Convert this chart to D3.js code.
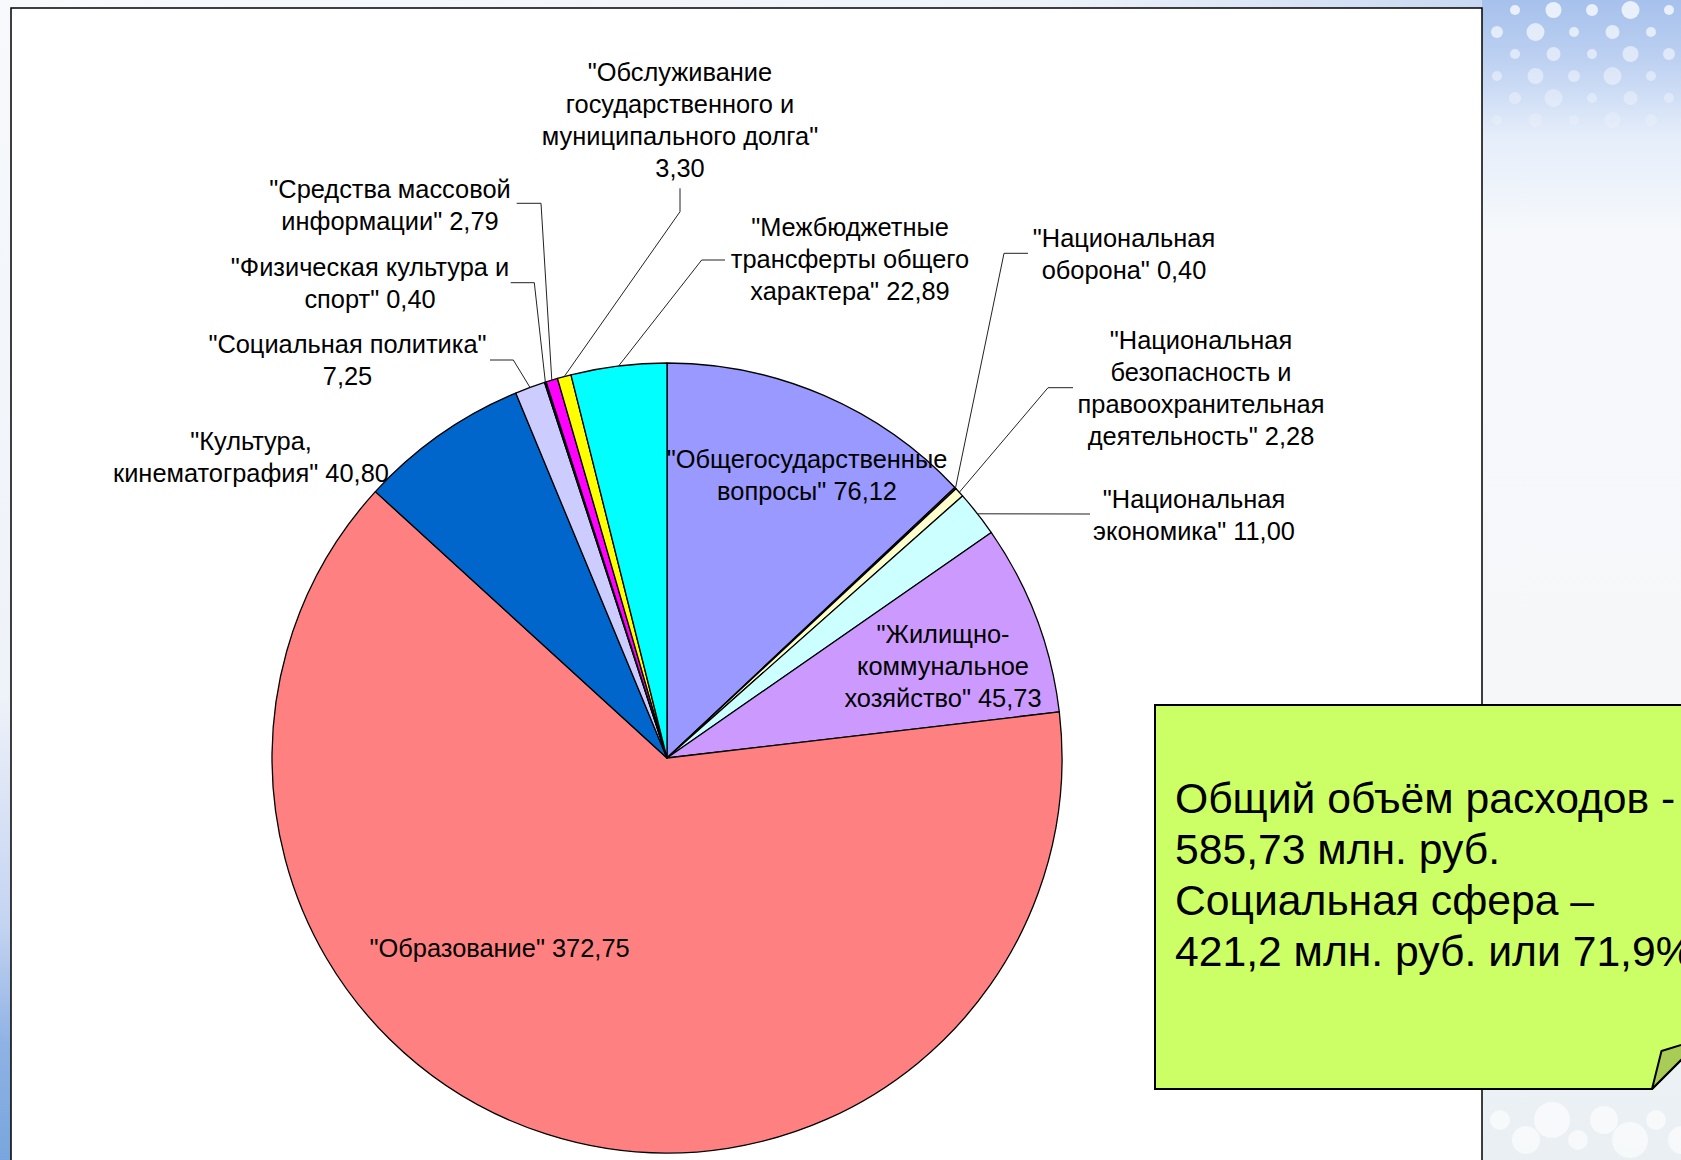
<!DOCTYPE html>
<html><head><meta charset="utf-8">
<script src="https://cdn.jsdelivr.net/npm/d3@7"></script>
<style>html,body{margin:0;padding:0;overflow:hidden;background:#fff} svg{display:block}</style>
</head><body>
<svg id="c" width="1681" height="1160"></svg>
<script>
// ---------- data ----------
const categories = [
  'Общегосударственные вопросы',
  'Национальная оборона',
  'Национальная безопасность и правоохранительная деятельность',
  'Национальная экономика',
  'Жилищно-коммунальное хозяйство',
  'Образование',
  'Культура, кинематография',
  'Социальная политика',
  'Физическая культура и спорт',
  'Средства массовой информации',
  'Обслуживание государственного и муниципального долга',
  'Межбюджетные трансферты общего характера'
];
const values = [76.12, 0.40, 2.28, 11.00, 45.73, 372.75, 40.80, 7.25, 0.40, 2.79, 3.30, 22.89];
const colors = ['#9999ff','#993366','#ffffcc','#ccffff','#cc99ff','#ff8080','#0066cc','#ccccff','#000080','#ff00ff','#ffff00','#00ffff'];
// label text with line breaks ("|") ; {v} = value
const labelWrap = [
  '"Общегосударственные|вопросы" {v}',
  '"Национальная|оборона" {v}',
  '"Национальная|безопасность и|правоохранительная|деятельность" {v}',
  '"Национальная|экономика" {v}',
  '"Жилищно-|коммунальное|хозяйство" {v}',
  '"Образование" {v}',
  '"Культура,|кинематография" {v}',
  '"Социальная политика"|{v}',
  '"Физическая культура и|спорт" {v}',
  '"Средства массовой|информации" {v}',
  '"Обслуживание|государственного и|муниципального долга"|{v}',
  '"Межбюджетные|трансферты общего|характера" {v}'
];
const noteLines = ['Общий объём расходов -', '585,73 млн. руб.', 'Социальная сфера –', '421,2 млн. руб. или 71,9%'];

// ---------- layout ----------
const W = 1681, H = 1160;
const cx = 667, cy = 758, R = 395;
const LH = 32, FS = 25.4;
const labelPos = [
  {x: 807, y: 474.5},
  {x: 1124, y: 253.5, lead: [[1028, 253.3],[1004, 253.3]]},
  {x: 1201, y: 388, lead: [[1073, 387.7],[1048, 387.7]]},
  {x: 1194, y: 514.6, lead: [[1090, 514],[1086, 514]]},
  {x: 943, y: 666},
  {x: 499.6, y: 948},
  {x: 251, y: 457},
  {x: 347.5, y: 360, lead: [[490, 360],[513.3, 360]]},
  {x: 370, y: 283, lead: [[510.7, 282.7],[534.3, 282.7]]},
  {x: 390, y: 205, lead: [[516.7, 203.3],[541, 203.3]]},
  {x: 680, y: 120, lead: [[680, 188.3],[680, 211.7]]},
  {x: 850, y: 259, lead: [[725, 260],[701.7, 260]]}
];

const locale = d3.formatLocale({decimal: ',', thousands: ' ', grouping: [3], currency: ['', '']});
const fmt = locale.format('.2f');

const svg = d3.select('#c');
const defs = svg.append('defs');

const g1 = defs.append('linearGradient').attr('id','bgR').attr('x1',0).attr('y1',0).attr('x2',0).attr('y2',1);
[[0,'#a6c1ec'],[0.05,'#bcd0f1'],[0.12,'#e6eefa'],[0.2,'#f6f8fb'],[0.7,'#f5f7f9'],[1,'#e9eff3']].forEach(s=>g1.append('stop').attr('offset',s[0]).attr('stop-color',s[1]));
const g2 = defs.append('linearGradient').attr('id','bgL').attr('x1',0).attr('y1',0).attr('x2',0).attr('y2',1);
[[0,'#f7f9fc'],[0.6,'#eef2f9'],[0.8,'#c3d3f1'],[0.9,'#8fb2e4'],[1,'#78a6dc']].forEach(s=>g2.append('stop').attr('offset',s[0]).attr('stop-color',s[1]));
const g3 = defs.append('linearGradient').attr('id','bgT').attr('x1',0).attr('y1',0).attr('x2',1).attr('y2',0);
[[0,'#f8fafc'],[0.7,'#eef3fa'],[1,'#c8d8f2']].forEach(s=>g3.append('stop').attr('offset',s[0]).attr('stop-color',s[1]));

svg.append('rect').attr('width',W).attr('height',H).attr('fill','#f6f8fa');
svg.append('rect').attr('x',0).attr('width',1482).attr('height',12).attr('fill','url(#bgT)');
svg.append('rect').attr('x',1482).attr('width',W-1482).attr('height',H).attr('fill','url(#bgR)');
svg.append('rect').attr('width',12).attr('height',H).attr('fill','url(#bgL)');

// decorative bubbles top-right
const bub = svg.append('g').attr('fill','#ffffff');
for (let row = 0; row < 6; row++) {
  for (let col = 0; col < 6; col++) {
    const x = 1497 + col * 38.5 + (row % 2 === 0 ? 18 : 0);
    const y = 10 + row * 22;
    const r = [5,8,6,9,5,7][(row*2+col)%6];
    bub.append('circle').attr('cx',x).attr('cy',y).attr('r',r).attr('opacity', 0.75 - row*0.11);
  }
}
for (let i = 0; i < 8; i++) {
  svg.append('circle').attr('cx',1500 + i*26).attr('cy',1120 + (i%2)*20).attr('r',10+(i%3)*4).attr('fill','#ffffff').attr('opacity',0.6);
}

// chart panel
svg.append('rect').attr('x',11).attr('y',8).attr('width',1471).attr('height',1300)
  .attr('fill','#ffffff').attr('stroke','#000').attr('stroke-width',1.5);

// pie
const pie = d3.pie().sort(null).value(d=>d).startAngle(0).endAngle(2*Math.PI);
const arcs = pie(values);
const arc = d3.arc().innerRadius(0).outerRadius(R);
const edge = d3.arc().innerRadius(R).outerRadius(R);

const gp = svg.append('g').attr('transform',`translate(${cx},${cy})`);
gp.selectAll('path').data(arcs).join('path')
  .attr('d', arc)
  .attr('fill', (d,i)=>colors[i])
  .attr('stroke','#000').attr('stroke-width',1.3).attr('stroke-linejoin','round');

// leader lines
const gl = svg.append('g').attr('fill','none').attr('stroke','#222').attr('stroke-width',1);
arcs.forEach((d,i)=>{
  const lp = labelPos[i];
  if (!lp.lead) return;
  const e = edge.centroid(d);
  const pts = lp.lead.concat([[cx+e[0], cy+e[1]]]);
  gl.append('path').attr('d', d3.line()(pts));
});

// labels
const gt = svg.append('g').attr('font-family','"Liberation Sans", Arial, sans-serif')
  .attr('font-size',FS).attr('fill','#000').attr('text-anchor','middle');
arcs.forEach((d,i)=>{
  const lines = labelWrap[i].replace('{v}', fmt(values[i])).split('|');
  const lp = labelPos[i];
  const t = gt.append('text');
  lines.forEach((ln,k)=>{
    t.append('tspan').attr('x', lp.x)
      .attr('y', lp.y + (k - (lines.length-1)/2)*LH + 9)
      .text(ln);
  });
});

// note box with folded corner
const bx = 1155, by = 705, bb = 1089, foldX = 1652;
svg.append('path')
  .attr('d', `M${bx},${by} L${W+20},${by} L${W+20},${bb-(W+20-foldX)} L${foldX},${bb} L${bx},${bb} Z`)
  .attr('fill','#ccff66').attr('stroke','#000').attr('stroke-width',2);
svg.append('path')
  .attr('d', `M${foldX},${bb} L${foldX+9.5},${1051} L${W+20},${1039} L${W+20},${bb-(W+20-foldX)} Z`)
  .attr('fill','#a8cc55').attr('stroke','#000').attr('stroke-width',2).attr('stroke-linejoin','round');

const nt = svg.append('text').attr('font-family','"Liberation Sans", Arial, sans-serif')
  .attr('font-size',42.67).attr('fill','#000');
noteLines.forEach((ln,k)=>{
  nt.append('tspan').attr('x',1175).attr('y',813 + k*51).text(ln);
});
</script>
</body></html>
